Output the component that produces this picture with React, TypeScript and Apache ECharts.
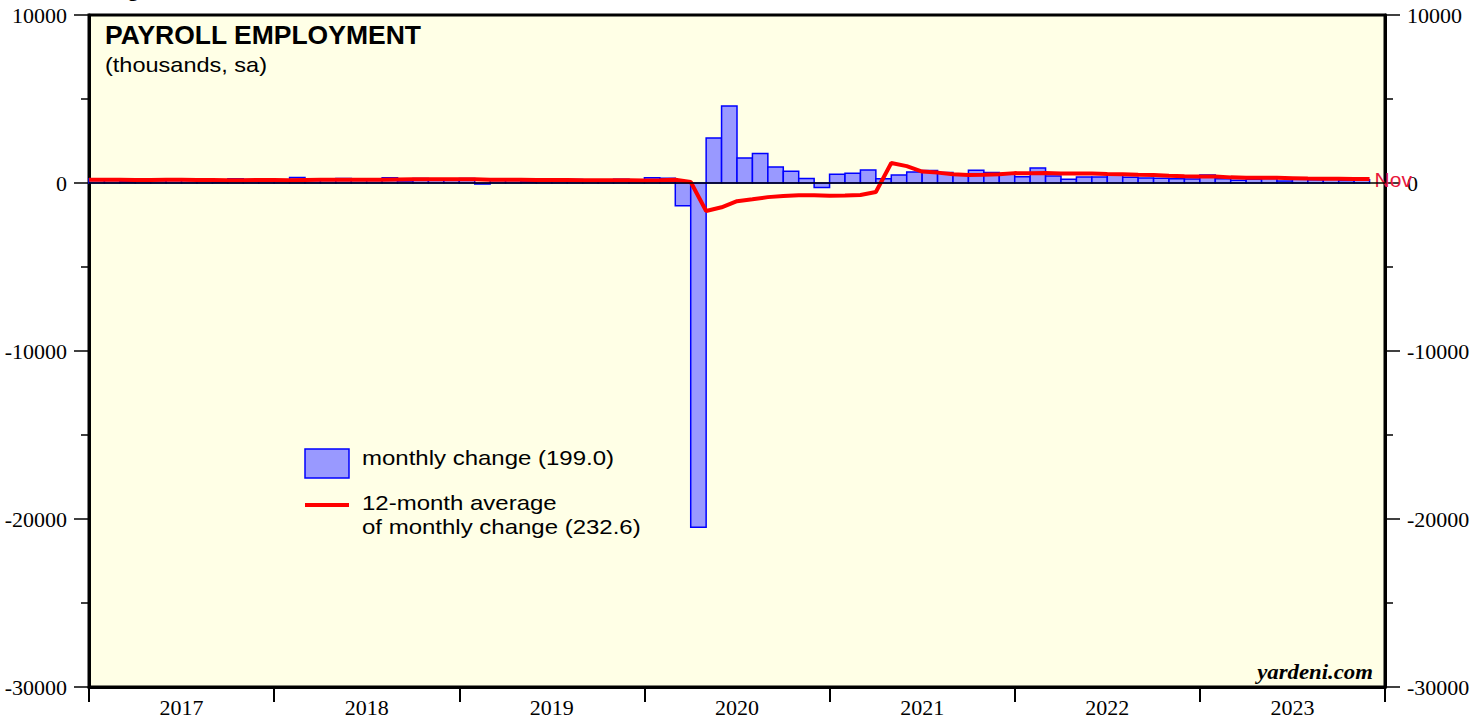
import React, { useEffect, useRef } from 'react';
import * as echarts from 'echarts';

// Calendar years on the x axis (monthly data, Jan 2017 .. Nov 2023)
const YEARS = ['2017', '2018', '2019', '2020', '2021', '2022', '2023'];

// Monthly change in payroll employment, thousands, Jan 2017 .. Nov 2023
const MONTHLY_2017 = [259, 195, 73, 175, 155, 242, 184, 176, 14, 256, 212, 164];
const MONTHLY_2018 = [176, 330, 195, 175, 270, 235, 173, 311, 118, 275, 180, 227];
const MONTHLY_2019 = [269, -60, 180, 187, 70, 194, 159, 212, 154, 158, 222, 122];
const MONTHLY_2020 = [315, 289, -1360, -20493, 2679, 4586, 1485, 1752, 955, 700, 264, -268];
const MONTHLY_2021 = [520, 580, 770, 260, 470, 660, 750, 630, 460, 760, 630, 560];
const MONTHLY_2022 = [370, 900, 410, 230, 360, 360, 510, 340, 300, 290, 260, 240];
const MONTHLY_2023 = [470, 250, 170, 230, 270, 120, 230, 190, 260, 150, 199];

// 12-month average of monthly change, end of Dec 2016 .. end of Nov 2023
const AVG_END_2016 = [187];
const AVG_2017 = [198, 195, 182, 184, 193, 188, 179, 179, 159, 170, 174, 175];
const AVG_2018 = [169, 180, 190, 190, 200, 199, 198, 209, 218, 220, 217, 222];
const AVG_2019 = [230, 197, 196, 197, 180, 177, 176, 168, 171, 161, 164, 156];
const AVG_2020 = [159, 189, 60, -1663, -1446, -1080, -969, -841, -774, -729, -725, -758];
const AVG_2021 = [-741, -717, -539, 1190, 1006, 679, 618, 524, 483, 488, 519, 588];
const AVG_2022 = [575, 602, 572, 569, 560, 535, 515, 491, 478, 438, 408, 381];
const AVG_2023 = [389, 335, 315, 315, 308, 288, 264, 252, 248, 237, 232];

const MONTHLY_CHANGE = [
  ...MONTHLY_2017, ...MONTHLY_2018, ...MONTHLY_2019, ...MONTHLY_2020,
  ...MONTHLY_2021, ...MONTHLY_2022, ...MONTHLY_2023,
];
const AVG_12M = [
  ...AVG_END_2016, ...AVG_2017, ...AVG_2018, ...AVG_2019, ...AVG_2020,
  ...AVG_2021, ...AVG_2022, ...AVG_2023,
];

const Y_MIN = -30000;
const Y_MAX = 10000;
const Y_STEP = 10000;

const TITLE = 'PAYROLL EMPLOYMENT';
const SUBTITLE = '(thousands, sa)';
const TOP_CUT_TEXT = 'Figure 1.';
const LAST_MONTH = 'Nov';
const LEGEND_BAR = 'monthly change (199.0)';
const LEGEND_LINE = '12-month average\nof monthly change (232.6)';
const SOURCE = 'yardeni.com';

const SANS = '"Liberation Sans", Arial, Helvetica, sans-serif';
const SERIF = '"Liberation Serif", "Times New Roman", serif';

export default function App() {
  const ref = useRef<HTMLDivElement>(null);

  useEffect(() => {
    if (!ref.current) return;
    const chart = echarts.init(ref.current, null, { renderer: 'svg' });

    const nMonths = YEARS.length * 12;
    const barData = MONTHLY_CHANGE.map((v, i) => [i, v]);
    const lineData = AVG_12M.map((v, i) => [i, v]);
    const yearTicks = YEARS.map((_, i) => i * 12).concat([nMonths]);
    const yearLabelPos = YEARS.map((_, i) => i * 12 + 6);

    const yAxis = (position: 'left' | 'right') => ({
      type: 'value',
      position,
      min: Y_MIN,
      max: Y_MAX,
      interval: Y_STEP,
      axisLine: { show: true, onZero: false, lineStyle: { color: '#000', width: 3 } },
      axisTick: { show: true, inside: false, length: 15, lineStyle: { color: '#000', width: 1.5 } },
      minorTick: { show: true, splitNumber: 2, length: 8, lineStyle: { color: '#000', width: 1.5 } },
      splitLine: { show: false },
      minorSplitLine: { show: false },
      axisLabel: {
        margin: 22,
        fontFamily: SERIF,
        fontSize: 22,
        color: '#000',
        formatter: (v: number) => String(v),
      },
    });

    chart.setOption({
      animation: false,
      backgroundColor: '#ffffff',
      grid: {
        left: 89,
        right: 99,
        top: 15,
        bottom: 36,
        show: true,
        backgroundColor: '#ffffe6',
        borderColor: '#000',
        borderWidth: 3,
      },
      xAxis: {
        type: 'value',
        position: 'bottom',
        min: 0,
        max: nMonths,
        axisLine: { show: true, onZero: false, lineStyle: { color: '#000', width: 3 } },
        axisTick: {
          show: true,
          inside: false,
          length: 15,
          customValues: yearTicks,
          lineStyle: { color: '#000', width: 2 },
        },
        axisLabel: {
          customValues: yearLabelPos,
          formatter: (v: number) => YEARS[Math.round((v - 6) / 12)] ?? '',
          margin: 9,
          fontFamily: SERIF,
          fontSize: 22,
          color: '#000',
        },
        splitLine: { show: false },
      },
      yAxis: [yAxis('left'), yAxis('right')],
      series: [
        {
          type: 'custom',
          name: 'monthly change',
          xAxisIndex: 0,
          yAxisIndex: 0,
          z: 2,
          data: barData,
          encode: { x: 0, y: 1 },
          renderItem: (params: any, api: any) => {
            const i = api.value(0);
            const v = api.value(1);
            const p0 = api.coord([i, 0]);
            const p1 = api.coord([i + 1, v]);
            return {
              type: 'rect',
              shape: {
                x: p0[0],
                y: Math.min(p0[1], p1[1]),
                width: p1[0] - p0[0],
                height: Math.abs(p1[1] - p0[1]),
              },
              style: { fill: '#9999ff', stroke: '#0000ff', lineWidth: 1.5 },
            };
          },
          markLine: {
            silent: true,
            symbol: ['none', 'none'],
            label: { show: false },
            lineStyle: { color: '#000', width: 1.5, type: 'solid' },
            data: [{ yAxis: 0 }],
          },
        },
        {
          type: 'line',
          name: '12-month average',
          xAxisIndex: 0,
          yAxisIndex: 0,
          z: 4,
          data: lineData,
          symbol: 'none',
          lineStyle: { color: '#ff0000', width: 4 },
          itemStyle: { color: '#ff0000' },
          endLabel: {
            show: true,
            formatter: LAST_MONTH,
            color: '#e8173c',
            fontFamily: SANS,
            fontSize: 21,
            distance: 5,
          },
        },
      ],
      graphic: [
        {
          type: 'text',
          x: 105,
          y: -13,
          style: {
            text: TOP_CUT_TEXT,
            fontFamily: SANS,
            fontWeight: 'bold',
            fontSize: 24,
            fill: '#000',
            verticalAlign: 'middle',
          },
        },
        {
          type: 'text',
          x: 105,
          y: 35,
          scaleX: 1.06,
          style: {
            text: TITLE,
            fontFamily: SANS,
            fontWeight: 'bold',
            fontSize: 25,
            fill: '#000',
            verticalAlign: 'middle',
          },
        },
        {
          type: 'text',
          x: 105,
          y: 65,
          scaleX: 1.12,
          style: {
            text: SUBTITLE,
            fontFamily: SANS,
            fontSize: 21,
            fill: '#000',
            verticalAlign: 'middle',
          },
        },
        {
          type: 'rect',
          shape: { x: 305, y: 449, width: 44, height: 29 },
          style: { fill: '#9999ff', stroke: '#0000ff', lineWidth: 1.5 },
        },
        {
          type: 'text',
          x: 362,
          y: 458,
          scaleX: 1.2,
          style: {
            text: LEGEND_BAR,
            fontFamily: SANS,
            fontSize: 20,
            fill: '#000',
            verticalAlign: 'middle',
          },
        },
        {
          type: 'line',
          shape: { x1: 305, y1: 505, x2: 349, y2: 505 },
          style: { stroke: '#ff0000', lineWidth: 4 },
        },
        {
          type: 'text',
          x: 362,
          y: 491,
          scaleX: 1.2,
          style: {
            text: LEGEND_LINE,
            fontFamily: SANS,
            fontSize: 20,
            lineHeight: 24,
            fill: '#000',
            verticalAlign: 'top',
          },
        },
        {
          type: 'text',
          x: 1373,
          y: 672,
          scaleX: 1.14,
          style: {
            text: SOURCE,
            fontFamily: SERIF,
            fontWeight: 'bold',
            fontStyle: 'italic',
            fontSize: 20,
            fill: '#000',
            align: 'right',
            verticalAlign: 'middle',
          },
        },
      ],
    });

    return () => {
      chart.dispose();
    };
  }, []);

  return (
    <div
      ref={ref}
      style={{ position: 'fixed', left: 0, top: 0, width: 1484, height: 723 }}
    />
  );
}
